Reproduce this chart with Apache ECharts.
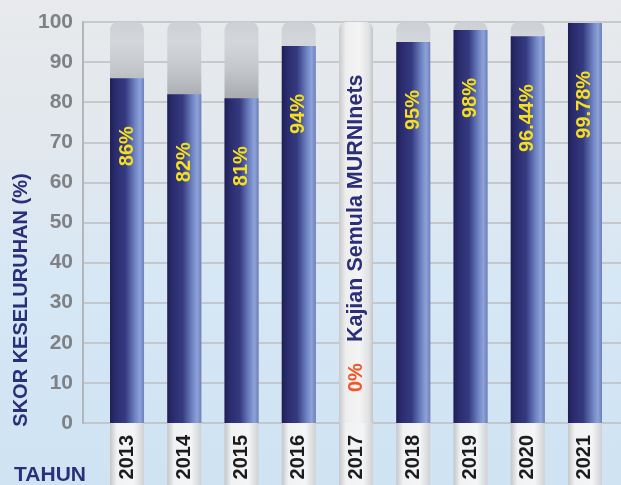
<!DOCTYPE html>
<html>
<head>
<meta charset="utf-8">
<script src="https://cdn.jsdelivr.net/npm/echarts@6/dist/echarts.min.js"></script>
<style>
html,body{margin:0;padding:0;width:621px;height:485px;overflow:hidden;}
#chart{width:621px;height:485px;}
</style>
</head>
<body>
<div id="chart"></div>
<script>
const years = ['2013','2014','2015','2016','2017','2018','2019','2020','2021'];
const scores = [86, 82, 81, 94, 0, 95, 98, 96.44, 99.78];
const reviewMarker = [null, null, null, null, 100, null, null, null, null];
const reviewText = 'Kajian Semula MURNInets';
const yTicks = [0, 100, 10];
const yTitle = 'SKOR KESELURUHAN (%)';
const xTitle = 'TAHUN';

const FONT = "'Liberation Sans', Arial, sans-serif";
const NAVY = '#2b2f7a';
const TOP = 22, BOTTOM = 62;

const chart = echarts.init(document.getElementById('chart'));
chart.setOption({
  animation: false,
  backgroundColor: new echarts.graphic.LinearGradient(0, 0, 0, 1, [
    {offset: 0, color: '#e8eaec'},
    {offset: 0.3, color: '#e2e8ee'},
    {offset: 0.6, color: '#d6e7f5'},
    {offset: 1, color: '#cfe3f3'}
  ]),
  grid: [
    {left: 83, right: 0, top: TOP, bottom: BOTTOM, containLabel: false, outerBoundsMode: 'none'},
    {left: 98.4, right: 7.4, top: TOP, bottom: BOTTOM, containLabel: false, outerBoundsMode: 'none'}
  ],
  xAxis: [
    {gridIndex: 0, type: 'value', min: 0, max: 1, show: false},
    {gridIndex: 1, type: 'category', data: years,
     axisLine: {show: false}, axisTick: {show: false},
     axisLabel: {
       interval: 0, rotate: 90, margin: 0,
       fontFamily: FONT, fontWeight: 'bold', fontSize: 20, color: '#1c1c1c',
       lineHeight: 22,
       backgroundColor: new echarts.graphic.LinearGradient(0, 0, 0, 1, [
         {offset: 0, color: '#c4c6c9'},
         {offset: 0.2, color: '#f1f2f3'},
         {offset: 0.7, color: '#f4f5f6'},
         {offset: 1, color: '#cfd1d4'}
       ]),
       padding: [6, 12, 6, 14]
     }}
  ],
  yAxis: [
    {gridIndex: 0, type: 'value', min: yTicks[0], max: yTicks[1], interval: yTicks[2],
     axisLine: {show: true, lineStyle: {color: '#b3b5b8', width: 2}},
     axisTick: {show: false},
     axisLabel: {margin: 10, fontFamily: FONT, fontWeight: 'bold', fontSize: 21, color: '#7f8184'},
     splitLine: {show: true, lineStyle: {color: '#bcbec1', width: 1.5}}},
    {gridIndex: 1, type: 'value', min: yTicks[0], max: yTicks[1], show: false}
  ],
  series: [
    {
      type: 'bar', xAxisIndex: 1, yAxisIndex: 1, data: scores, barWidth: 34,
      showBackground: true,
      backgroundStyle: {
        color: new echarts.graphic.LinearGradient(0, 0, 0, 1, [
          {offset: 0, color: '#cdd1d5'},
          {offset: 0.05, color: '#d3d6da'},
          {offset: 0.12, color: '#c3c6cb'},
          {offset: 0.19, color: '#a8acb1'},
          {offset: 0.3, color: '#9ca0a5'},
          {offset: 1, color: '#9ca0a5'}
        ]),
        borderRadius: [8, 8, 0, 0]
      },
      itemStyle: {
        color: new echarts.graphic.LinearGradient(0, 0, 1, 0, [
          {offset: 0, color: '#1f1f57'},
          {offset: 0.15, color: '#292b6c'},
          {offset: 0.45, color: '#353a80'},
          {offset: 0.75, color: '#7187c6'},
          {offset: 0.88, color: '#8ea2d8'},
          {offset: 1, color: '#6b80bd'}
        ])
      },
      label: {
        show: true, position: 'insideTop', distance: 48, rotate: 90,
        align: 'right', verticalAlign: 'middle',
        fontFamily: FONT, fontWeight: 'bold', fontSize: 20, color: '#f5df1f',
        formatter: p => p.value > 0 ? p.value + '%' : ''
      }
    },
    {
      type: 'bar', xAxisIndex: 1, yAxisIndex: 1, data: reviewMarker, barWidth: 34,
      barGap: '-100%',
      itemStyle: {
        color: new echarts.graphic.LinearGradient(0, 0, 1, 0, [
          {offset: 0, color: '#c8c9cb'},
          {offset: 0.2, color: '#eeeeef'},
          {offset: 0.6, color: '#f4f4f5'},
          {offset: 0.88, color: '#e0e1e3'},
          {offset: 1, color: '#c3c4c6'}
        ]),
        borderRadius: [8, 8, 0, 0]
      },
      label: {
        show: true, position: 'insideBottom', distance: 31, rotate: 90,
        align: 'left', verticalAlign: 'middle',
        formatter: p => '{a|' + scores[p.dataIndex] + '%}{b|' + reviewText + '}',
        rich: {
          a: {fontFamily: FONT, fontWeight: 'bold', fontSize: 20, color: '#f0562a'},
          b: {fontFamily: FONT, fontWeight: 'bold', fontSize: 21.5, color: NAVY, padding: [0, 0, 0, 21]}
        }
      }
    }
  ],
  graphic: [
    {type: 'text', x: 21, y: 300, rotation: Math.PI / 2,
     style: {text: yTitle, fontFamily: FONT, fontWeight: 'bold', fontSize: 20, fill: NAVY,
             align: 'center', verticalAlign: 'middle'}},
    {type: 'text', x: 50, y: 475,
     style: {text: xTitle, fontFamily: FONT, fontWeight: 'bold', fontSize: 21, fill: NAVY,
             align: 'center', verticalAlign: 'middle'}}
  ]
});
</script>
</body>
</html>
